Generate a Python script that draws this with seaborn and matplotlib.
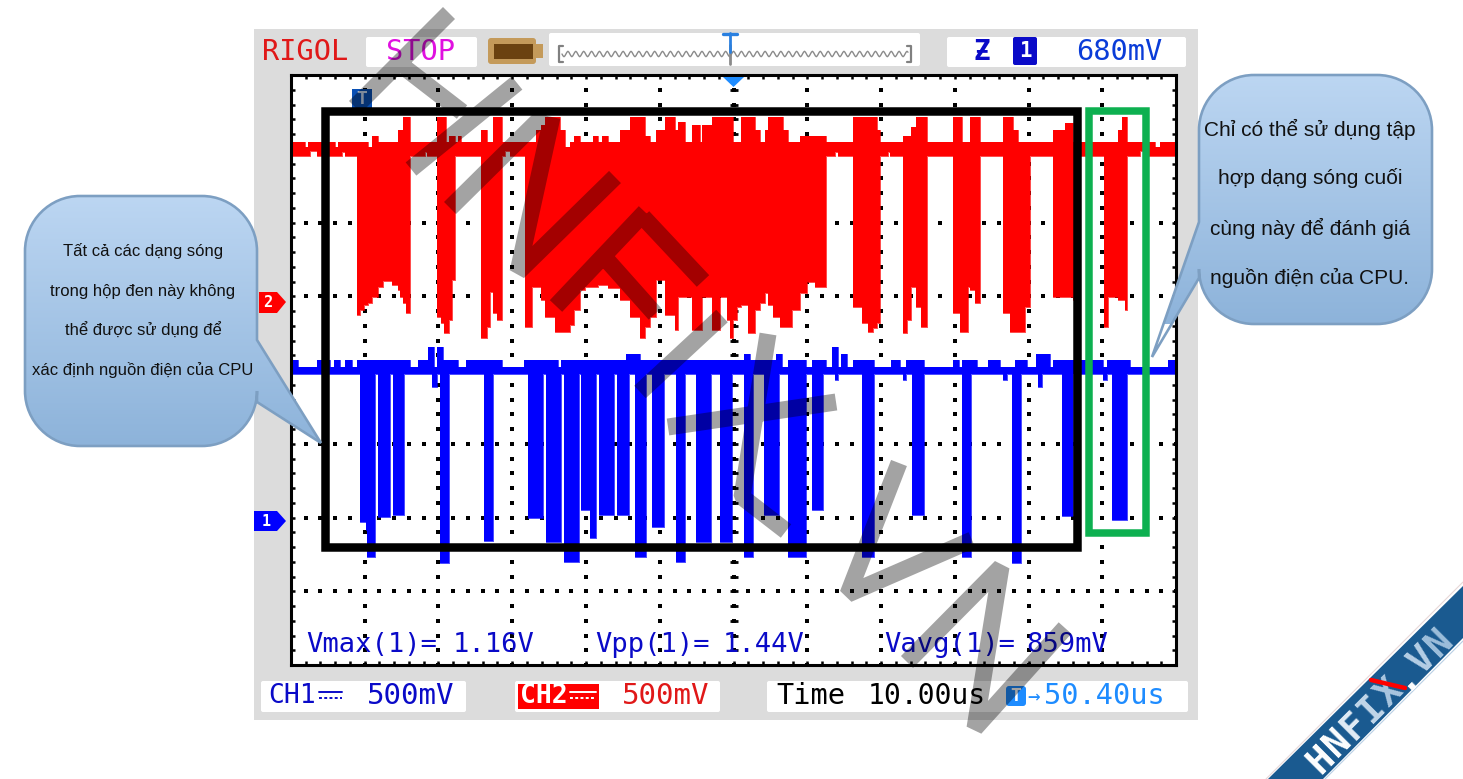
import numpy as np
import pandas as pd
import seaborn as sns
import matplotlib.pyplot as plt
from matplotlib.colors import LinearSegmentedColormap
from matplotlib.patches import FancyBboxPatch, PathPatch, Polygon, Rectangle
from matplotlib.path import Path

# waveforms: screen column, top row and bottom row of the trace envelope
ch2_column = [290, 305, 308, 310, 317, 335, 338, 342, 345, 357, 360, 364, 368, 372, 378, 383, 392, 398, 400, 403, 406,
              410, 425, 427, 437, 441, 444, 446, 449, 452, 455, 458, 461, 481, 487, 490, 493, 497, 502, 505, 510,
              525, 532, 536, 541, 545, 555, 560, 565, 570, 574, 580, 585, 593, 598, 602, 608, 620, 630, 640, 645,
              650, 656, 665, 675, 678, 685, 692, 700, 702, 712, 720, 727, 730, 733, 737, 741, 748, 755, 760, 765,
              768, 773, 780, 783, 788, 792, 800, 807, 815, 826, 835, 838, 853, 862, 868, 873, 877, 880, 888, 890,
              903, 907, 911, 916, 921, 927, 953, 960, 962, 968, 970, 975, 980, 1003, 1010, 1013, 1018, 1025, 1030,
              1053, 1065, 1073, 1078, 1104, 1108, 1118, 1122, 1125, 1127, 1140, 1143, 1155, 1160, 1176]
ch2_top = [142, 147, 142, 142, 142, 147, 142, 142, 142, 142, 142, 142, 147, 136, 142, 142, 142, 130, 130, 117, 117,
           142, 142, 142, 117, 117, 117, 142, 136, 136, 142, 136, 142, 130, 142, 142, 117, 117, 142, 142, 142,
           142, 142, 130, 125, 117, 117, 130, 147, 142, 136, 142, 142, 136, 142, 136, 142, 130, 117, 117, 136,
           142, 130, 117, 130, 122, 142, 125, 142, 125, 117, 117, 117, 117, 142, 142, 117, 117, 130, 142, 130,
           117, 117, 117, 130, 142, 142, 136, 136, 136, 142, 142, 142, 117, 117, 117, 117, 130, 142, 142, 142,
           136, 136, 127, 117, 117, 142, 117, 117, 142, 142, 117, 117, 142, 117, 117, 130, 142, 142, 142,
           130, 123, 142, 142, 142, 142, 130, 117, 117, 142, 142, 142, 147, 142, 142]
ch2_bottom = [156, 156, 156, 151, 156, 156, 156, 152, 156, 315, 310, 305, 303, 297, 287, 281, 285, 290, 297, 303, 313,
              156, 152, 156, 317, 323, 333, 333, 320, 280, 156, 156, 156, 338, 327, 292, 313, 320, 156, 151, 156,
              327, 287, 287, 300, 317, 332, 332, 332, 325, 310, 290, 287, 287, 285, 285, 288, 300, 317, 338, 327,
              317, 280, 315, 330, 297, 297, 330, 330, 297, 330, 297, 320, 338, 320, 307, 305, 333, 310, 303, 293,
              305, 317, 327, 327, 327, 310, 293, 282, 287, 156, 152, 156, 307, 323, 332, 328, 323, 156, 152, 156,
              333, 320, 287, 307, 327, 156, 313, 332, 332, 287, 290, 303, 156, 313, 332, 332, 332, 307, 156,
              297, 297, 300, 156, 327, 297, 300, 300, 310, 156, 151, 156, 156, 156, 156]

ch1_column = [290, 298, 317, 330, 334, 340, 345, 352, 357, 360, 366, 367, 375, 378, 390, 393, 404, 410, 418, 428, 432,
              434, 437, 440, 443, 449, 458, 466, 484, 493, 502, 524, 528, 543, 546, 558, 561, 564, 579, 581, 590,
              596, 599, 614, 617, 626, 629, 635, 640, 646, 652, 664, 676, 685, 696, 711, 720, 732, 744, 750, 753,
              764, 776, 779, 782, 788, 806, 812, 823, 826, 832, 835, 838, 841, 847, 853, 862, 874, 891, 900, 903,
              906, 912, 924, 953, 959, 962, 971, 977, 988, 1000, 1003, 1007, 1012, 1015, 1021, 1027, 1036, 1038,
              1042, 1050, 1053, 1062, 1073, 1095, 1103, 1107, 1112, 1127, 1130, 1168, 1176]
ch1_top = [360, 367, 360, 367, 360, 367, 360, 367, 360, 360, 360, 360, 360, 360, 360, 360, 360, 367, 360, 347, 347,
           367, 347, 347, 360, 360, 367, 360, 360, 360, 367, 360, 360, 360, 360, 367, 360, 360, 360, 360, 360,
           360, 360, 360, 360, 354, 354, 354, 360, 360, 360, 360, 360, 360, 360, 360, 360, 360, 354, 360, 360,
           360, 354, 354, 367, 360, 367, 360, 360, 367, 347, 347, 367, 354, 367, 360, 360, 367, 360, 367, 367,
           360, 360, 367, 360, 367, 360, 360, 367, 360, 367, 367, 367, 367, 360, 360, 367, 354, 354,
           354, 367, 360, 360, 360, 360, 367, 360, 360, 360, 367, 360, 360]
ch1_bottom = [374, 374, 374, 374, 374, 374, 374, 374, 374, 522, 530, 557, 374, 517, 374, 515, 374, 374, 374, 374, 387,
              387, 374, 563, 563, 374, 374, 374, 541, 374, 374, 374, 518, 374, 542, 542, 374, 562, 374, 510, 538,
              374, 515, 374, 515, 515, 374, 557, 557, 374, 527, 374, 562, 374, 542, 374, 542, 374, 557, 557, 374,
              515, 515, 374, 374, 557, 374, 510, 374, 374, 374, 380, 374, 374, 374, 374, 557, 374, 374, 374, 380,
              374, 515, 374, 374, 374, 557, 374, 374, 374, 374, 380, 374, 563, 563, 374, 374, 374, 387,
              374, 374, 374, 516, 374, 374, 380, 374, 520, 374, 374, 374, 374]

memory_wave = [0, 2, 3, 2, 0, -2, -3, -2]

left_note = ["Tất cả các dạng sóng", "trong hộp đen này không", "thể được sử dụng để", "xác định nguồn điện của CPU"]
right_note = ["Chỉ có thể sử dụng tập", "hợp dạng sóng cuối", "cùng này để đánh giá", "nguồn điện của CPU."]
brand_letters = list("HNFIX.VN")
brand_colors = ["#ffffff", "#ffffff", "#e3edf6", "#c3d7ea", "#aac6e0", "#ffffff", "#b5cee5", "#9dbedb"]

RED = "#ff0000"
BLUE = "#0000ff"
LCD_BLUE = "#0a0ac8"
MONO = "DejaVu Sans Mono"
PX = 0.72  # one pixel in points at dpi 100

sns.set_theme(style="white")
plt.rcParams["font.family"] = ["Liberation Sans", "DejaVu Sans"]

fig = plt.figure(figsize=(14.63, 7.79), dpi=100, facecolor="white")


def pixel_axes(zorder):
    a = fig.add_axes([0, 0, 1, 1], zorder=zorder)
    a.set_xlim(0, 1463)
    a.set_ylim(779, 0)
    a.axis("off")
    a.patch.set_alpha(0)
    return a


back = pixel_axes(0)
front = pixel_axes(2)

# =====================================================
# Instrument panel
# =====================================================
back.add_patch(Rectangle((254, 29), 944, 691, color="#dcdcdc", lw=0))
for x0, y0, w, h in [(366, 37, 111, 30), (549, 33, 371, 33), (947, 37, 239, 30),
                     (261, 681, 205, 31), (515, 681, 205, 31), (767, 681, 421, 31)]:
    back.add_patch(FancyBboxPatch((x0 + 2, y0 + 2), w - 4, h - 4, boxstyle="round,pad=2", fc="white", ec="none"))

back.text(262, 52, "RIGOL", color="#e01818", family=MONO, fontsize=20.6, va="center")
back.text(386, 52, "STOP", color="#e010e0", family=MONO, fontsize=20.6, va="center")
back.text(1076, 52, "680mV", color="#0a3cd8", family=MONO, fontsize=20.6, va="center")

# battery style memory icon
back.add_patch(FancyBboxPatch((491, 41), 42, 20, boxstyle="round,pad=3", fc="#c49a5a", ec="none"))
back.add_patch(Rectangle((533, 44), 10, 14, fc="#c49a5a", ec="none"))
back.add_patch(Rectangle((494, 44), 39, 15, fc="#6b4210", ec="none"))

# memory depth strip
wave = memory_wave * 44
wave_x = np.linspace(562, 908, len(wave))
sns.lineplot(x=wave_x, y=[54 + v * 0.9 for v in wave], ax=back, color="#8a8a8a", lw=1, estimator=None, sort=False)
for x0, sign in [(559, 1), (911, -1)]:
    back.plot([x0 + sign * 4, x0, x0, x0 + sign * 4], [46, 46, 62, 62], color="#808080", lw=1.6)
back.plot([730, 730], [45, 64], color="#8a8a8a", lw=2)
back.plot([730, 730], [33, 52], color="#2a80e0", lw=2)
back.plot([723, 737], [34, 34], color="#2a80e0", lw=2.4)

# trigger readout
back.text(982, 52, "Ƶ", color=LCD_BLUE, family=MONO, fontsize=20, va="center", ha="center", weight="bold")
back.add_patch(FancyBboxPatch((1015, 39), 20, 24, boxstyle="round,pad=2", fc=LCD_BLUE, ec="none"))
back.text(1025, 51, "1", color="white", family=MONO, fontsize=15, va="center", ha="center", weight="bold")

# channel tags
back.add_patch(Polygon([(259, 292), (277, 292), (286, 302), (277, 313), (259, 313)], fc=RED, ec="none"))
back.text(268, 302, "2", color="white", family=MONO, fontsize=11, va="center", ha="center", weight="bold")
back.add_patch(Polygon([(254, 511), (277, 511), (286, 521), (277, 531), (254, 531)], fc=BLUE, ec="none"))
back.text(266, 521, "1", color="white", family=MONO, fontsize=11, va="center", ha="center", weight="bold")

# status line
back.text(268, 696, "CH1", color=LCD_BLUE, family=MONO, fontsize=19, va="center")
back.plot([319, 342], [692, 692], color=LCD_BLUE, lw=1.4)
back.plot([319, 342], [698, 698], color=LCD_BLUE, lw=1.4, ls=(0, (1.5, 1.2)))
back.text(367, 696, "500mV", color=LCD_BLUE, family=MONO, fontsize=21, va="center")
back.add_patch(Rectangle((518, 684), 81, 25, fc=RED, ec="none"))
back.text(520, 696, "CH2", color="white", family=MONO, fontsize=19, va="center", weight="bold")
back.plot([570, 596], [692, 692], color="white", lw=1.4)
back.plot([570, 596], [698, 698], color="white", lw=1.4, ls=(0, (1.5, 1.2)))
back.text(622, 696, "500mV", color="#e01818", family=MONO, fontsize=21, va="center")
back.text(776, 696, "Time", color="black", family=MONO, fontsize=20.6, va="center")
back.text(868, 696, "10.00us", color="black", family=MONO, fontsize=20.2, va="center")
back.add_patch(FancyBboxPatch((1009, 689), 14, 14, boxstyle="round,pad=3", fc="#1e8cff", ec="none"))
back.text(1016, 696, "T", color="white", family=MONO, fontsize=13, va="center", ha="center", weight="bold")
back.text(1027, 696, "→", color="#1e8cff", family=MONO, fontsize=15, va="center")
back.text(1044, 696, "50.40us", color="#1e8cff", family=MONO, fontsize=20.6, va="center")

# =====================================================
# Scope screen
# =====================================================
scope = fig.add_axes([291 / 1463, (779 - 665) / 779, 885 / 1463, 590 / 779], zorder=1, facecolor="white")

major_x = np.arange(291, 1177, 73.75)
major_y = np.arange(75, 666, 73.75)
minor = 14.75
dots_x, dots_y = [], []
for gx in major_x[1:-1]:
    ys = np.arange(75, 666, minor)
    dots_x += [gx] * len(ys)
    dots_y += list(ys)
for gy in major_y[1:-1]:
    xs = np.arange(291, 1177, minor)
    dots_x += list(xs)
    dots_y += [gy] * len(xs)
sns.scatterplot(x=dots_x, y=dots_y, ax=scope, marker="s", s=5, color="black", linewidth=0, zorder=1)
center_y = np.arange(75, 666, minor)
scope.plot([733.5] * len(center_y), center_y, ls="none", marker="_", ms=8 * PX, mew=2, color="black", zorder=1)

ch2 = pd.DataFrame({"column": ch2_column, "top": ch2_top, "bottom": ch2_bottom})
ch1 = pd.DataFrame({"column": ch1_column, "top": ch1_top, "bottom": ch1_bottom})
for df, color in [(ch2, RED), (ch1, BLUE)]:
    scope.fill_between(df["column"], df["top"], df["bottom"], step="post", color=color, lw=0, zorder=2)
    sns.lineplot(data=df, x="column", y="top", ax=scope, color=color, lw=0.5, drawstyle="steps-post",
                 estimator=None, zorder=2)
    sns.lineplot(data=df, x="column", y="bottom", ax=scope, color=color, lw=0.5, drawstyle="steps-post",
                 estimator=None, zorder=2)

scope.set_xlim(291, 1176)
scope.set_ylim(665, 75)
scope.set_xlabel("")
scope.set_ylabel("")
scope.set_xticks(np.arange(291, 1177, minor))
scope.set_yticks(np.arange(75, 666, minor))
scope.tick_params(which="major", direction="in", length=3, width=1.8, color="black", top=True, right=True,
                  bottom=True, left=True, labelbottom=False, labelleft=False)
for spine in scope.spines.values():
    spine.set_color("black")
    spine.set_linewidth(2.2)

for x0, label in [(306, "Vmax(1)="), (453, "1.16V"), (595, "Vpp(1)="), (723, "1.44V"),
                  (884, "Vavg(1)="), (1026, "859mV")]:
    scope.text(x0, 645, label, color=LCD_BLUE, family=MONO, fontsize=19.5, va="center", zorder=3)

# trigger markers on the screen
scope.add_patch(Rectangle((352, 89), 20, 20, fc="#0a50b4", ec="none", zorder=3))
scope.text(362, 99, "T", color="#c8d8f0", family=MONO, fontsize=13, va="center", ha="center", weight="bold", zorder=4)
scope.add_patch(Polygon([(723, 77), (744, 77), (733.5, 87)], fc="#1e8cff", ec="none", zorder=3))

# =====================================================
# Annotations on top
# =====================================================
front.add_patch(Rectangle((325, 111), 752, 436, fc="none", ec="black", lw=8.5 * PX, joinstyle="miter"))
front.add_patch(Rectangle((1089, 111), 57, 422, fc="none", ec="#0db050", lw=7.5 * PX, joinstyle="miter"))

# watermark, one stroked path so crossings do not get darker
strokes = [[(449, 13), (355, 107)], [(517, 83), (411, 169)], [(405, 68), (462, 112)],
           [(545, 114), (450, 208)], [(552, 117), (518, 272), (615, 177)],
           [(645, 212), (556, 306)], [(643, 217), (703, 281)], [(606, 259), (655, 314)],
           [(722, 316), (640, 392)],
           [(836, 402), (668, 427)],
           [(768, 334), (742, 497), (786, 531)],
           [(899, 463), (848, 594), (972, 540)],
           [(907, 662), (1001, 567), (975, 728), (1065, 628)]]
verts, codes = [], []
for s in strokes:
    verts += s
    codes += [Path.MOVETO] + [Path.LINETO] * (len(s) - 1)
front.add_patch(PathPatch(Path(verts, codes), fc="none", ec="black", alpha=0.36, lw=17 * PX,
                          capstyle="butt", joinstyle="bevel"))

callout_cmap = LinearSegmentedColormap.from_list("callout", ["#bcd6f2", "#8db3da"])


def callout(left, top, right, bottom, r, tail):
    k = 0.45 * r
    if tail[1][0] > right:
        side = [(right, tail[0][1]), tail[1], (right, tail[2][1])]
        v = [(left + r, top), (right - r, top), (right - k, top), (right, top + k), (right, top + r)] + side + \
            [(right, bottom - r), (right, bottom - k), (right - k, bottom), (right - r, bottom),
             (left + r, bottom), (left + k, bottom), (left, bottom - k), (left, bottom - r),
             (left, top + r), (left, top + k), (left + k, top), (left + r, top)]
        c = [Path.MOVETO, Path.LINETO, Path.CURVE4, Path.CURVE4, Path.CURVE4, Path.LINETO, Path.LINETO, Path.LINETO,
             Path.LINETO, Path.CURVE4, Path.CURVE4, Path.CURVE4,
             Path.LINETO, Path.CURVE4, Path.CURVE4, Path.CURVE4,
             Path.LINETO, Path.CURVE4, Path.CURVE4, Path.CURVE4]
    else:
        side = [(left, tail[2][1]), tail[1], (left, tail[0][1])]
        v = [(left + r, top), (right - r, top), (right - k, top), (right, top + k), (right, top + r),
             (right, bottom - r), (right, bottom - k), (right - k, bottom), (right - r, bottom),
             (left + r, bottom), (left + k, bottom), (left, bottom - k), (left, bottom - r)] + side + \
            [(left, top + r), (left, top + k), (left + k, top), (left + r, top)]
        c = [Path.MOVETO, Path.LINETO, Path.CURVE4, Path.CURVE4, Path.CURVE4,
             Path.LINETO, Path.CURVE4, Path.CURVE4, Path.CURVE4,
             Path.LINETO, Path.CURVE4, Path.CURVE4, Path.CURVE4,
             Path.LINETO, Path.LINETO, Path.LINETO,
             Path.LINETO, Path.CURVE4, Path.CURVE4, Path.CURVE4]
    outline = PathPatch(Path(v, c), fc="none", ec="#7d9fc2", lw=2.6 * PX, zorder=3)
    front.add_patch(outline)
    extent_left = min(left, tail[1][0])
    extent_right = max(right, tail[1][0])
    img = front.imshow(np.linspace(0, 1, 256).reshape(-1, 1), cmap=callout_cmap, aspect="auto", zorder=2,
                       extent=(extent_left, extent_right, bottom, top))
    img.set_clip_path(outline)


callout(25, 196, 257, 446, 55, [(257, 340), (321, 443), (257, 402)])
callout(1199, 75, 1432, 324, 55, [(1199, 222), (1152, 357), (1199, 278)])
front.set_xlim(0, 1463)
front.set_ylim(779, 0)

for y0, line in zip([251, 291, 330, 370], left_note):
    front.text(143, y0, line, color="#111111", fontsize=12, ha="center", va="center", zorder=4)
for y0, line in zip([129, 178, 228, 278], right_note):
    front.text(1310, y0, line, color="#111111", fontsize=15, ha="center", va="center", zorder=4)

# corner ribbon
front.add_patch(Polygon([(1463, 586), (1463, 638), (1323, 779), (1268, 779)], fc="#1a5a90", ec="none", zorder=2))
front.plot([1463, 1266], [582, 779], color="#e8d8d8", lw=0.8, zorder=2)
front.plot([1463, 1325], [641, 779], color="#b8cfe4", lw=0.8, zorder=2)
ribbon_x = [1328, 1345, 1362, 1379, 1396, 1413, 1430, 1447]
ribbon_y = [767, 750, 733, 716, 700, 683, 667, 650]
for cx, cy, letter, color in zip(ribbon_x, ribbon_y, brand_letters, brand_colors):
    front.text(cx, cy, letter, color=color, family=MONO, fontsize=27, weight="bold", rotation=45,
               rotation_mode="anchor", ha="center", va="baseline", zorder=3)
front.plot([1371, 1405], [680, 688], color=RED, lw=3.2, solid_capstyle="round", zorder=4)

plt.savefig("out.png", dpi=100)
